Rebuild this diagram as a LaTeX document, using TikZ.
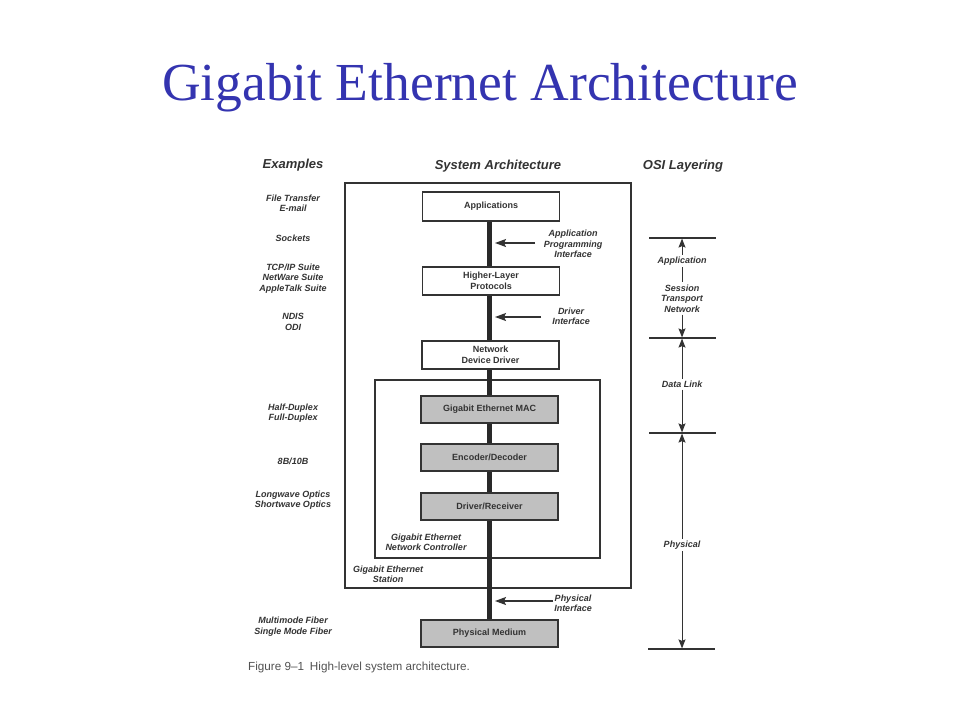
\documentclass[tikz,border=0pt]{standalone}
\usepackage{fontspec}
\setmainfont{Liberation Serif}
\setsansfont{Liberation Sans}
\usetikzlibrary{arrows.meta,backgrounds}
\definecolor{titleblue}{HTML}{3434B0}
\definecolor{ink}{HTML}{333333}
\definecolor{boxgray}{HTML}{C0C0C0}
\tikzset{
  layerbox/.style={draw=ink, line width=1.3pt, fill=white, minimum width=137pt, minimum height=28pt, inner sep=0pt, font=\sffamily\bfseries\fontsize{9}{10.5}\selectfont, align=center, text=ink},
  graybox/.style={layerbox, fill=boxgray},
  framebox/.style={draw=ink, line width=1.3pt, inner sep=0pt},
  lbl/.style={font=\sffamily\bfseries\itshape\fontsize{9}{10.5}\selectfont, align=center, text=ink, inner sep=1pt},
  hdr/.style={font=\sffamily\bfseries\itshape\fontsize{13}{15}\selectfont, text=ink, inner sep=0pt},
  ifarrow/.style={draw=ink, line width=1.3pt, -{Stealth[length=11pt,width=8pt,inset=2pt]}},
  osiarrow/.style={draw=ink, line width=1pt, -{Stealth[length=9pt,width=7pt,inset=1.5pt]}},
  osiline/.style={draw=ink, line width=1.2pt},
  bus/.style={draw=ink!80!black, line width=5pt}
}
\begin{document}
\begin{tikzpicture}[x=1pt,y=-1pt]
\useasboundingbox (0,0) rectangle (960,720);

% Title
\node[text=titleblue, font=\fontsize{53.5}{60}\selectfont, inner sep=0pt] (title) at (480,88) {Gigabit Ethernet Architecture};

% Headers
\node[hdr] (hex) at (293,165) {Examples};
\node[hdr] (hsys) at (498,166) {System Architecture};
\node[hdr] (hosi) at (683,166) {OSI Layering};

% Boxes
\node[layerbox, minimum height=29pt] (app) at (491,206.5) {Applications};
\node[layerbox] (hlp) at (491,281) {Higher-Layer\\Protocols};
\node[layerbox] (ndd) at (490.5,355) {Network\\Device Driver};
\node[graybox, minimum height=27pt] (mac) at (489.5,409.5) {Gigabit Ethernet MAC};
\node[graybox, minimum height=27pt] (enc) at (489.5,457.5) {Encoder/Decoder};
\node[graybox, minimum height=27pt] (drv) at (489.5,506.5) {Driver/Receiver};
\node[graybox, minimum height=27pt] (phy) at (489.5,633.5) {Physical Medium};

\begin{scope}[on background layer]
\fill[white] (0,0) rectangle (960,720);
% Frames
\node[framebox, minimum width=286pt, minimum height=405pt] (station) at (488,385.5) {};
\node[framebox, minimum width=225pt, minimum height=178pt] (ctrl) at (487.5,469) {};
% Bus line
\draw[bus] (app.south -| 489,0) -- (phy.north -| 489,0);
\end{scope}

% Frame labels
\node[lbl] (ctrlL) at (426,542.5) {Gigabit Ethernet\\Network Controller};
\node[lbl] (statL) at (388,574.5) {Gigabit Ethernet\\Station};

% Interface labels and arrows
\node[lbl] (apiL) at (573,244) {Application\\Programming\\Interface};
\node[lbl] (drvL) at (571,316.5) {Driver\\Interface};
\node[lbl] (phyL) at (573,603.5) {Physical\\Interface};
\coordinate (apiS) at (535,243);
\coordinate (apiE) at (495,243);
\coordinate (drvS) at (541,317);
\coordinate (drvE) at (495,317);
\coordinate (phyS) at (553,601);
\coordinate (phyE) at (495,601);
\draw[ifarrow] (apiS) -- (apiE);
\draw[ifarrow] (drvS) -- (drvE);
\draw[ifarrow] (phyS) -- (phyE);

% Examples
\node[lbl] (ex1) at (293,203.5) {File Transfer\\E-mail};
\node[lbl] (ex2) at (293,238) {Sockets};
\node[lbl] (ex3) at (293,278.5) {TCP/IP Suite\\NetWare Suite\\AppleTalk Suite};
\node[lbl] (ex4) at (293,322) {NDIS\\ODI};
\node[lbl] (ex5) at (293,413) {Half-Duplex\\Full-Duplex};
\node[lbl] (ex6) at (293,461) {8B/10B};
\node[lbl] (ex7) at (293,500) {Longwave Optics\\Shortwave Optics};
\node[lbl] (ex8) at (293,626.5) {Multimode Fiber\\Single Mode Fiber};

% OSI layering
\coordinate (t1a) at (649,238); \coordinate (t1b) at (716,238);
\coordinate (t2a) at (649,338); \coordinate (t2b) at (716,338);
\coordinate (t3a) at (649,433); \coordinate (t3b) at (716,433);
\coordinate (t4a) at (648,649); \coordinate (t4b) at (715,649);
\draw[osiline] (t1a) -- (t1b);
\draw[osiline] (t2a) -- (t2b);
\draw[osiline] (t3a) -- (t3b);
\draw[osiline] (t4a) -- (t4b);
\coordinate (l1) at (682,238.6);
\coordinate (l2a) at (682,337.4);
\coordinate (l2b) at (682,338.6);
\coordinate (l3a) at (682,432.4);
\coordinate (l3b) at (682,433.6);
\coordinate (l4) at (682,648.4);
\node[lbl, inner sep=2pt] (oApp) at (682,261) {Application};
\node[lbl, inner sep=2pt] (oSess) at (682,298.5) {Session\\Transport\\Network};
\node[lbl, inner sep=2pt] (oDL) at (682,384) {Data Link};
\node[lbl, inner sep=2pt] (oPhy) at (682,545) {Physical};
\draw[osiarrow] (oApp.north) -- (l1);
\draw[osiline, line width=1pt] (oApp.south) -- (oSess.north);
\draw[osiarrow] (oSess.south) -- (l2a);
\draw[osiarrow] (oDL.north) -- (l2b);
\draw[osiarrow] (oDL.south) -- (l3a);
\draw[osiarrow] (oPhy.north) -- (l3b);
\draw[osiarrow] (oPhy.south) -- (l4);

% Caption
\node[anchor=west, inner sep=0pt, font=\sffamily\fontsize{11.7}{13}\selectfont, text=ink!85] (cap) at (248,667) {Figure 9--1\enspace High-level system architecture.};
\end{tikzpicture}
\end{document}
